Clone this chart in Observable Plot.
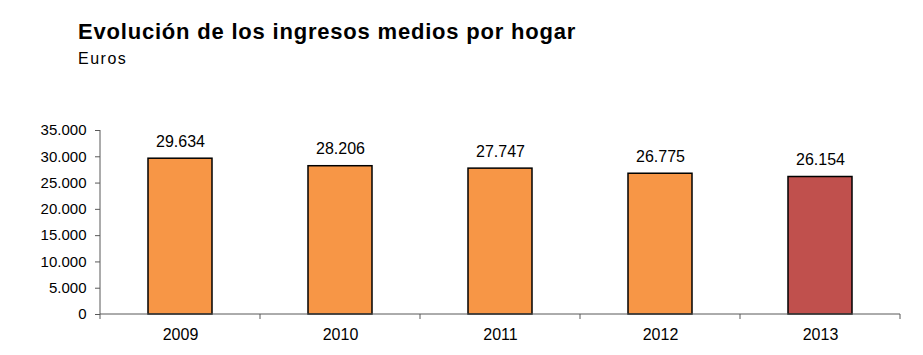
<!DOCTYPE html>
<html><head><meta charset="utf-8">
<script src="https://cdn.jsdelivr.net/npm/d3@7"></script>
<script src="https://cdn.jsdelivr.net/npm/@observablehq/plot@0.6"></script>
<style>
body{margin:0;background:#fff;font-family:"Liberation Sans",Arial,sans-serif;}
#wrap{position:relative;width:923px;height:355px;}
#title{position:absolute;left:78px;top:19px;font-size:22px;font-weight:bold;color:#000;letter-spacing:0.8px;white-space:nowrap;}
#sub{position:absolute;left:78px;top:50px;font-size:16px;color:#000;letter-spacing:1.5px;}
#chart{position:absolute;left:0;top:0;}
</style></head>
<body>
<div id="wrap"><div id="chart"></div>
<div id="title">Evolución de los ingresos medios por hogar</div>
<div id="sub">Euros</div></div>
<script>
const years = ["2009","2010","2011","2012","2013"];
const values = [29634, 28206, 27747, 26775, 26154];
const barColors = ["#F79646","#F79646","#F79646","#F79646","#C0504D"];
const yTicks = [0,5000,10000,15000,20000,25000,30000,35000];

const data = years.map((y,i)=>({year:y, value:values[i], color:barColors[i]}));
const loc = d3.formatLocale({thousands:".", grouping:[3], decimal:","});
const fmt = loc.format(",d");
const padInner = 0.6;
const axisColor = "#595959";

function boundaryTicks(index, scales, values, dims) {
  const x = scales.x;
  const c0 = x(years[0]), c1 = x(years[1]);
  const step = c1 - c0;
  const bw = typeof x.bandwidth === "function" ? x.bandwidth() : step*(1-padInner);
  const y0 = dims.height - dims.marginBottom;
  const g = d3.create("svg:g");
  const pos = years.map(y => x(y) + bw/2 - step/2);
  pos.push(x(years[years.length-1]) + bw/2 + step/2);
  g.selectAll("line").data(pos).join("line")
    .attr("x1", d=>d).attr("x2", d=>d).attr("y1", y0).attr("y2", y0+5)
    .attr("stroke", axisColor);
  g.append("line").attr("x1", pos[0]).attr("x2", pos[pos.length-1])
    .attr("y1", y0).attr("y2", y0).attr("stroke", axisColor);
  g.append("line").attr("x1", pos[0]).attr("x2", pos[0])
    .attr("y1", dims.marginTop).attr("y2", y0).attr("stroke", axisColor);
  return g.node();
}

const chart = Plot.plot({
  width: 923, height: 355,
  marginLeft: 100, marginRight: 23, marginTop: 130, marginBottom: 41,
  style: {fontFamily: '"Liberation Sans", Arial, sans-serif', fontSize: "15px", color: "#000", background: "transparent"},
  x: {domain: years, paddingInner: padInner, paddingOuter: 0.3, axis: null, label: null},
  y: {domain: [0, 35000], axis: null, label: null},
  marks: [
    Plot.barY(data, {x: "year", y: "value", fill: "color", stroke: "#000", strokeWidth: 1.5}),
    Plot.text(data, {x: "year", y: "value", text: d => fmt(d.value), dy: -17, fontSize: 16, fill: "#000", style: "letter-spacing:1.4px"}),
    Plot.axisY({ticks: yTicks, tickFormat: fmt, tickSize: 5, tickPadding: 9, stroke: axisColor, fontSize: 15, label: null, style: "letter-spacing:1.5px"}),
    boundaryTicks,
    Plot.axisX({tickSize: 0, tickPadding: 14, fontSize: 16, label: null, style: "letter-spacing:0.6px"})
  ]
});
document.getElementById("chart").appendChild(chart);
d3.select(chart).selectAll("text").attr("fill","#000");
</script>
</body></html>
